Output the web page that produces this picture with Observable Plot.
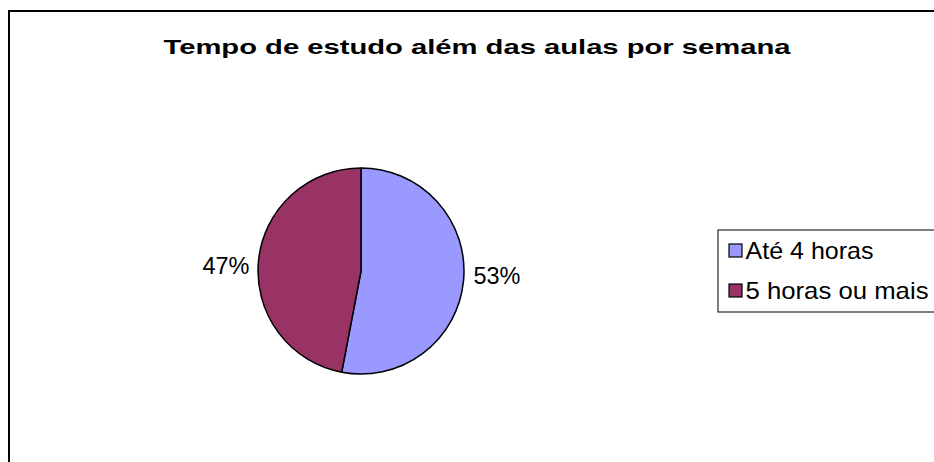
<!DOCTYPE html>
<html>
<head>
<meta charset="utf-8">
<script src="https://cdn.jsdelivr.net/npm/d3@7"></script>
<script src="https://cdn.jsdelivr.net/npm/@observablehq/plot@0.6"></script>
<style>
  html, body { margin: 0; padding: 0; background: white; }
</style>
</head>
<body>
<div id="chart"></div>
<script>
// ---- data ----
const title = "Tempo de estudo além das aulas por semana";
const categories = ["Até 4 horas", "5 horas ou mais"];
const values = [53, 47];
const labels = ["53%", "47%"];
const palette = ["#9999FF", "#993366"];

// ---- layout ----
const W = 934, H = 462;
const cx = 361, cy = 271, R = 103;
const labelR = R + 9.5;

const rows = categories.map((c, i) => ({category: c, value: values[i], label: labels[i]}));
const arcs = d3.pie().sort(null).value(d => d.value)(rows);
arcs.forEach(a => {
  const mid = (a.startAngle + a.endAngle) / 2;
  a.data.lx = cx + labelR * Math.sin(mid);
  a.data.ly = cy - 0.5 * labelR * Math.cos(mid);
  a.data.right = Math.sin(mid) >= 0;
});

const legendRows = rows.map((d, i) => ({...d, ly: 250.5 + i * 40}));

function pieMark(index, scales) {
  const arc = d3.arc().innerRadius(0).outerRadius(R);
  const g = d3.create("svg:g").attr("transform", `translate(${cx},${cy})`);
  g.selectAll("path").data(arcs).join("path")
    .attr("d", arc)
    .attr("fill", d => scales.color(d.data.category))
    .attr("stroke", "black")
    .attr("stroke-width", 1.5)
    .attr("stroke-linejoin", "round");
  return g.node();
}

const chart = Plot.plot({
  width: W, height: H, margin: 0,
  x: {type: "identity", axis: null}, y: {type: "identity", axis: null},
  color: {domain: categories, range: palette},
  style: {fontFamily: "'Liberation Sans', Arial, sans-serif", background: "white", overflow: "hidden"},
  marks: [
    // outer chart frame
    Plot.rect([0], {x1: 9, y1: 11, x2: W + 20, y2: H + 20, fill: "none", stroke: "black", strokeWidth: 2}),
    // title
    Plot.text([title], {x: 476.5, y: 47, text: d => d, fontSize: 21, fontWeight: "bold", fill: "black", lineAnchor: "middle"}),
    // pie
    pieMark,
    // percentage labels
    Plot.text(rows.filter(d => d.right), {x: "lx", y: "ly", text: "label", textAnchor: "start", fontSize: 23, fill: "black", lineAnchor: "middle"}),
    Plot.text(rows.filter(d => !d.right), {x: "lx", y: "ly", text: "label", textAnchor: "end", fontSize: 23, fill: "black", lineAnchor: "middle"}),
    // legend box
    Plot.rect([0], {x1: 718, y1: 230, x2: W + 20, y2: 312, fill: "white", stroke: "black", strokeWidth: 1}),
    Plot.rect(legendRows, {x1: 729, x2: 742, y1: d => d.ly - 6.5, y2: d => d.ly + 6.5, fill: "category", stroke: "black", strokeWidth: 1.2}),
    Plot.text(legendRows, {x: 745, y: "ly", text: "category", textAnchor: "start", fontSize: 24, fill: "black", lineAnchor: "middle"})
  ]
});

// widths of the stretched text as rendered in the reference
const textWidths = new Map([
  [title, 627],
  ["53%", 47], ["47%", 47],
  ["Até 4 horas", 128], ["5 horas ou mais", 183]
]);
d3.select(chart).selectAll("text").each(function() {
  const w = textWidths.get(this.textContent);
  if (w) d3.select(this).attr("textLength", w).attr("lengthAdjust", "spacingAndGlyphs");
});

document.getElementById("chart").appendChild(chart);
</script>
</body>
</html>
